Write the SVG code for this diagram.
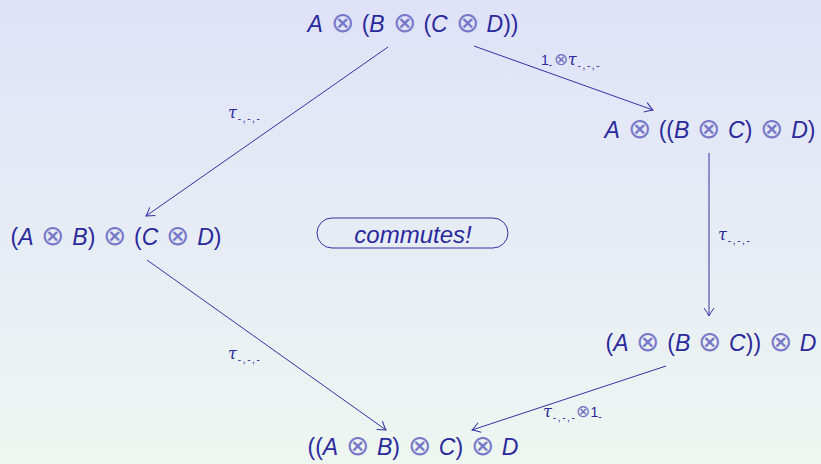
<svg xmlns="http://www.w3.org/2000/svg" width="821" height="464" viewBox="0 0 821 464">
<defs>
<linearGradient id="bg" x1="0" y1="0" x2="0" y2="1">
<stop offset="0" stop-color="#dfe2f8"/>
<stop offset="1" stop-color="#eef6f1"/>
</linearGradient>
<marker id="ah" markerUnits="userSpaceOnUse" markerWidth="16" markerHeight="16" viewBox="-10 -8 12 16" refX="0" refY="0" orient="auto">
<path d="M -8,-5 Q -3,-1.5 0,0 Q -3,1.5 -8,5" fill="none" stroke="#3333a3" stroke-width="1"/>
</marker>
<style>
.n{font-family:"Liberation Sans",Arial,sans-serif;font-size:23px;fill:#2a2a9c;word-spacing:1.5px}
.i{font-style:italic}
.o{font-family:"DejaVu Sans",sans-serif;font-weight:200;fill:#7878c8;font-size:28px}
.l{font-family:"Liberation Sans",Arial,sans-serif;font-size:14px;fill:#2a2a9c}
.t{font-family:"DejaVu Serif",serif;font-style:italic;font-size:16px}
.s{font-size:10px;letter-spacing:1.6px}
.lo{font-family:"DejaVu Sans",sans-serif;font-weight:200;fill:#7070c4;font-size:17px}
.e{fill:none;stroke:#3333a3;stroke-width:1;marker-end:url(#ah)}
</style>
</defs>
<rect width="821" height="464" fill="url(#bg)"/>
<g id="connectors">
<line class="e" x1="388" y1="47" x2="146" y2="216"/>
<line class="e" x1="474" y1="46" x2="653" y2="110"/>
<line class="e" x1="709" y1="153" x2="709" y2="316"/>
<line class="e" x1="147" y1="260" x2="386" y2="430"/>
<line class="e" x1="666" y1="366" x2="472" y2="430"/>
</g>
<g id="labels">
<text class="l" x="228" y="118"><tspan class="t">τ</tspan><tspan class="s" dx="1" dy="4">-,-,-</tspan></text>
<text class="l" x="541" y="65">1<tspan class="s" dy="3">-</tspan><tspan class="lo" dy="-3">⊗</tspan><tspan class="t">τ</tspan><tspan class="s" dx="1" dy="4">-,-,-</tspan></text>
<text class="l" x="718" y="240"><tspan class="t">τ</tspan><tspan class="s" dx="1" dy="4">-,-,-</tspan></text>
<text class="l" x="228" y="359"><tspan class="t">τ</tspan><tspan class="s" dx="1" dy="4">-,-,-</tspan></text>
<text class="l" x="543" y="417"><tspan class="t">τ</tspan><tspan class="s" dx="1" dy="4">-,-,-</tspan><tspan class="lo" dy="-4">⊗</tspan>1<tspan class="s" dy="3">-</tspan></text>
</g>
<g id="n1"><text class="n" x="413" y="32" text-anchor="middle"><tspan class="i">A</tspan> <tspan class="o">⊗</tspan> (<tspan class="i">B</tspan> <tspan class="o">⊗</tspan> (<tspan class="i">C</tspan> <tspan class="o">⊗</tspan> <tspan class="i">D</tspan>))</text></g>
<g id="n2"><text class="n" x="710" y="138" text-anchor="middle"><tspan class="i">A</tspan> <tspan class="o">⊗</tspan> ((<tspan class="i">B</tspan> <tspan class="o">⊗</tspan> <tspan class="i">C</tspan>) <tspan class="o">⊗</tspan> <tspan class="i">D</tspan>)</text></g>
<g id="n3"><text class="n" x="116" y="245" text-anchor="middle">(<tspan class="i">A</tspan> <tspan class="o">⊗</tspan> <tspan class="i">B</tspan>) <tspan class="o">⊗</tspan> (<tspan class="i">C</tspan> <tspan class="o">⊗</tspan> <tspan class="i">D</tspan>)</text></g>
<g id="n4"><text class="n" x="711" y="351" text-anchor="middle">(<tspan class="i">A</tspan> <tspan class="o">⊗</tspan> (<tspan class="i">B</tspan> <tspan class="o">⊗</tspan> <tspan class="i">C</tspan>)) <tspan class="o">⊗</tspan> <tspan class="i">D</tspan></text></g>
<g id="n5"><text class="n" x="413" y="455" text-anchor="middle">((<tspan class="i">A</tspan> <tspan class="o">⊗</tspan> <tspan class="i">B</tspan>) <tspan class="o">⊗</tspan> <tspan class="i">C</tspan>) <tspan class="o">⊗</tspan> <tspan class="i">D</tspan></text></g>
<g id="commutes">
<rect x="317" y="218" width="191" height="30" rx="15" fill="none" stroke="#3333a3" stroke-width="1"/>
<text class="n i" x="413" y="243" text-anchor="middle" style="font-size:24px;word-spacing:0">commutes!</text>
</g>
</svg>
